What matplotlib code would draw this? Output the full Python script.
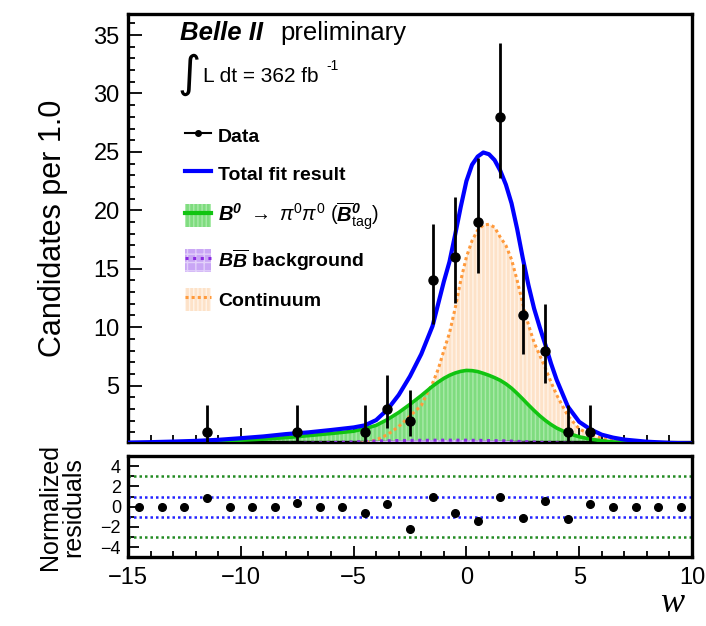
import numpy as np
import matplotlib
matplotlib.use("Agg")
import matplotlib.pyplot as plt
from matplotlib.patches import Patch
from matplotlib.lines import Line2D
from matplotlib.ticker import MultipleLocator

plt.rcParams['font.family'] = ['Liberation Sans', 'DejaVu Sans']
plt.rcParams['mathtext.fontset'] = 'custom'
plt.rcParams['mathtext.rm'] = 'Liberation Sans'
plt.rcParams['mathtext.it'] = 'Liberation Sans:italic'
plt.rcParams['mathtext.bf'] = 'Liberation Sans:bold'
plt.rcParams['mathtext.bfit'] = 'Liberation Sans:bold:italic'
plt.rcParams['hatch.linewidth'] = 1.0

# binned data (bin width 1.0)
bin_centers = [-14.5, -13.5, -12.5, -11.5, -10.5, -9.5, -8.5, -7.5, -6.5, -5.5, -4.5, -3.5, -2.5,
               -1.5, -0.5, 0.5, 1.5, 2.5, 3.5, 4.5, 5.5, 6.5, 7.5, 8.5, 9.5]
counts = [0, 0, 0, 1, 0, 0, 0, 1, 0, 0, 1, 3, 2, 14, 16, 19, 28, 11, 8, 1, 1, 0, 0, 0, 0]
err_lo = [0, 0, 0, 0.83, 0, 0, 0, 0.83, 0, 0, 0.83, 1.63, 1.29, 3.7, 3.96, 4.33, 5.27, 3.26, 2.77, 0.83, 0.83, 0, 0, 0, 0]
err_hi = [0, 0, 0, 2.3, 0, 0, 0, 2.3, 0, 0, 2.3, 2.92, 2.64, 4.83, 5.1, 5.47, 6.35, 4.42, 3.96, 2.3, 2.3, 0, 0, 0, 0]
residuals = [0, 0, 0, 0.88, 0, 0, 0, 0.33, 0, 0, -0.65, 0.23, -2.2, 0.98, -0.65, -1.4, 0.95, -1.08,
             0.56, -1.24, 0.23, 0, 0, 0, 0]

# fit curves
curve_x = [-15, -14, -13, -12, -11, -10, -9, -8, -7, -6, -5, -4.5, -4, -3.5, -3, -2.5, -2, -1.75,
           -1.5, -1.25, -1, -0.75, -0.5, -0.25, 0, 0.25, 0.5, 0.75, 1, 1.25, 1.5, 1.75, 2, 2.25,
           2.5, 2.75, 3, 3.25, 3.5, 3.75, 4, 4.5, 5, 5.5, 6, 6.5, 7, 8, 9, 10]
total_fit = [0.12, 0.16, 0.21, 0.27, 0.36, 0.5, 0.65, 0.85, 1.0, 1.2, 1.42, 1.6, 2.05, 2.95, 4.2, 5.8,
             7.7, 8.9, 10.1, 12.0, 13.9, 15.6, 17.9, 20.3, 22.5, 23.9, 24.6, 24.95, 24.8, 24.3,
             23.4, 22.2, 20.6, 18.4, 15.9, 13.6, 11.6, 10.0, 8.5, 6.9, 5.5, 3.2, 1.9, 1.25, 0.8,
             0.55, 0.38, 0.2, 0.1, 0.05]
signal = [0.08, 0.1, 0.13, 0.2, 0.26, 0.33, 0.42, 0.55, 0.72, 0.9, 1.1, 1.32, 1.6, 2.1, 2.7, 3.4,
          4.15, 4.55, 4.95, 5.3, 5.62, 5.88, 6.08, 6.22, 6.3, 6.28, 6.2, 6.05, 5.88, 5.68, 5.45,
          5.15, 4.78, 4.33, 3.85, 3.35, 2.87, 2.42, 2.02, 1.67, 1.37, 0.92, 0.62, 0.42, 0.28,
          0.18, 0.12, 0.05, 0.02, 0.01]
continuum = [0, 0, 0, 0, 0, 0, 0, 0, 0, 0, 0.02, 0.1, 0.35, 0.8, 1.5, 2.4, 3.3, 4.3, 5.2, 6.4, 8.0,
             9.5, 11.6, 14.0, 16.0, 17.4, 18.3, 18.75, 18.8, 18.55, 17.7, 17.0, 15.8, 14.0, 12.0,
             10.2, 8.7, 7.6, 6.5, 5.3, 4.2, 2.4, 1.3, 0.8, 0.5, 0.3, 0.18, 0.05, 0, 0]
bbbar = [0, 0, 0, 0, 0, 0, 0, 0.05, 0.08, 0.12, 0.18, 0.22, 0.26, 0.28, 0.3, 0.31, 0.32, 0.32, 0.33,
         0.33, 0.33, 0.33, 0.33, 0.33, 0.33, 0.32, 0.32, 0.31, 0.3, 0.29, 0.28, 0.27, 0.25, 0.23,
         0.21, 0.19, 0.17, 0.15, 0.13, 0.11, 0.1, 0.07, 0.05, 0.03, 0.02, 0, 0, 0, 0, 0]

bin_centers = np.array(bin_centers)
counts = np.array(counts)
mask = counts > 0

fig = plt.figure(figsize=(7.06, 6.26), dpi=100)
ax = fig.add_axes([128 / 706, 1 - 441.7 / 626, 564 / 706, 427.7 / 626])
axr = fig.add_axes([128 / 706, 1 - 557.3 / 626, 564 / 706, 101.3 / 626])

green = '#11c411'
orange = '#ff9a3c'
purple = '#8a2be2'

ax.fill_between(curve_x, 0, continuum, facecolor='#fde2c8', edgecolor='#fff3e8', hatch='||||', linewidth=0, zorder=1)
ax.fill_between(curve_x, 0, signal, facecolor='#7fdc7f', edgecolor='#a9eaa9', hatch='||||', linewidth=0, zorder=2)
ax.fill_between(curve_x, 0, bbbar, facecolor='#c9a6f5', edgecolor='#e2d0fa', hatch='++', linewidth=0, zorder=3)
ax.plot(curve_x, continuum, color=orange, lw=2.2, ls=(0, (1, 1)), zorder=4)
ax.plot(curve_x, bbbar, color=purple, lw=2.2, ls=(0, (1, 1.5)), zorder=4)
ax.plot(curve_x, signal, color=green, lw=2.6, zorder=5)
ax.plot(curve_x, total_fit, color='#0000ff', lw=3, zorder=6)
ax.errorbar(bin_centers[mask], counts[mask],
            yerr=[np.array(err_lo)[mask], np.array(err_hi)[mask]],
            fmt='o', color='black', ms=6.5, elinewidth=2, capsize=0, zorder=7)

ax.set_xlim(-15, 10)
ax.set_ylim(0.2, 36.8)
ax.yaxis.set_major_locator(MultipleLocator(5))
ax.yaxis.set_minor_locator(MultipleLocator(1))
ax.xaxis.set_major_locator(MultipleLocator(5))
ax.xaxis.set_minor_locator(MultipleLocator(1))
ax.tick_params(which='both', direction='in', top=False, right=False, width=1.3)
ax.tick_params(which='major', length=10, labelsize=17, pad=6)
ax.tick_params(which='minor', length=5)
ax.tick_params(axis='x', labelbottom=False)
ax.set_yticks([5, 10, 15, 20, 25, 30, 35])
ax.set_ylabel('Candidates per 1.0', fontsize=22)
ax.yaxis.set_label_coords(-0.107, 0.5)

# residual panel
axr.axhline(3, color='#228b22', lw=1.8, ls=(0, (1, 1.2)))
axr.axhline(-3, color='#228b22', lw=1.8, ls=(0, (1, 1.2)))
axr.axhline(1, color='#2222ff', lw=1.8, ls=(0, (1, 1.2)))
axr.axhline(-1, color='#2222ff', lw=1.8, ls=(0, (1, 1.2)))
axr.plot(bin_centers, residuals, 'o', color='black', ms=5.5, zorder=5)
axr.set_xlim(-15, 10)
axr.set_ylim(-5, 5)
axr.set_yticks([-4, -2, 0, 2, 4])
axr.yaxis.set_minor_locator(MultipleLocator(1))
axr.xaxis.set_major_locator(MultipleLocator(5))
axr.xaxis.set_minor_locator(MultipleLocator(1))
axr.tick_params(which='both', direction='in', top=False, right=False, width=1.3)
axr.tick_params(which='major', length=8, pad=5)
axr.tick_params(which='minor', length=4)
axr.tick_params(axis='x', labelsize=17, pad=7)
axr.tick_params(axis='y', labelsize=13)
axr.set_ylabel('Normalized\nresiduals', fontsize=18, linespacing=0.95)
axr.yaxis.set_label_coords(-0.076, 0.5)

for a in (ax, axr):
    for s in a.spines.values():
        s.set_linewidth(2.4)

# annotations
fig.text(180 / 706, 1 - 33 / 626, 'Belle II', fontsize=18.5, fontweight='bold', fontstyle='italic', va='center')
fig.text(280 / 706, 1 - 33 / 626, 'preliminary', fontsize=18.5, va='center')
fig.text(177 / 706, 1 - 75 / 626, '\u222b', fontsize=32, family='DejaVu Sans', va='center')
fig.text(203 / 706, 1 - 77 / 626, 'L dt = 362 fb', fontsize=15, va='center')
fig.text(326 / 706, 1 - 66 / 626, '-1', fontsize=10, va='center')
fig.text(660 / 706, 1 - 604 / 626, 'w', fontsize=26, family='Liberation Serif', fontstyle='italic', va='center')

handles = [
    Line2D([], [], color='black', marker='o', ms=4, lw=1.5),
    Line2D([], [], color='#0000ff', lw=3),
    (Patch(facecolor='#7fdc7f', edgecolor='#a9eaa9', hatch='||||', lw=0), Line2D([], [], color=green, lw=3)),
    (Patch(facecolor='#c9a6f5', edgecolor='#e2d0fa', hatch='++', lw=0), Line2D([], [], color=purple, lw=2.2, ls=(0, (1, 1.5)))),
    (Patch(facecolor='#fde2c8', edgecolor='#fff3e8', hatch='||||', lw=0), Line2D([], [], color=orange, lw=2.2, ls=(0, (1, 1)))),
]
labels = ['Data', 'Total fit result',
          r'$\mathbfit{B}^{\mathbfit{0}}\ \rightarrow\ \pi^{0}\pi^{0}\ (\overline{\mathbfit{B}}^{\mathbfit{0}}_{\rm tag})$',
          r'$\mathbfit{B}\overline{\mathbfit{B}}$ background',
          'Continuum']
leg = fig.legend(handles, labels, loc='upper left', bbox_to_anchor=(185 / 706, 1 - 124 / 626),
                 bbox_transform=fig.transFigure, frameon=False, borderpad=0, borderaxespad=0,
                 handlelength=1.35, handleheight=1.45, handletextpad=0.35, labelspacing=0.78,
                 prop={'size': 14, 'weight': 'bold'})
leg.get_texts()[2].set_fontsize(14.5)

fig.savefig('out.png', dpi=100)
